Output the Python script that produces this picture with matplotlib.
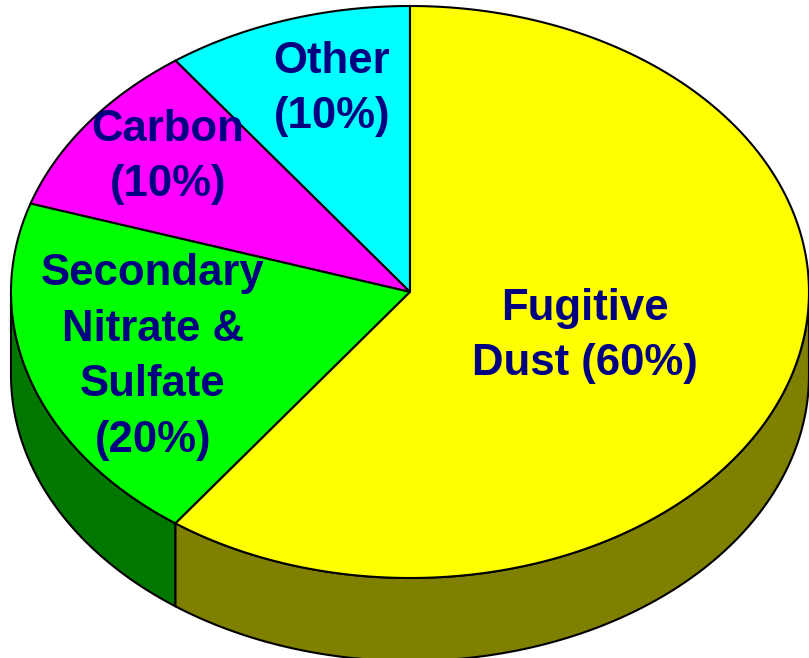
import numpy as np
import matplotlib.pyplot as plt
from matplotlib.patches import Polygon

# pie data, counterclockwise from 12 o'clock
labels = ['Other\n(10%)', 'Carbon\n(10%)', 'Secondary\nNitrate &\nSulfate\n(20%)', 'Fugitive\nDust (60%)']
shares = [10, 10, 20, 60]
top_colors = ['#00FFFF', '#FF00FF', '#00FF00', '#FFFF00']
side_colors = ['#008080', '#800080', '#007800', '#808000']
label_pos = [(332, 89), (168, 157), (153, 357), (585, 336)]

# ellipse geometry in pixels
cx, cy = 410, 292
rx, ry = 399, 286
depth = 83

def pt(t, dy=0):
    return cx + rx*np.cos(np.radians(t)), cy - ry*np.sin(np.radians(t)) + dy

fig = plt.figure(figsize=(8.09, 6.58), dpi=100)
ax = fig.add_axes([0, 0, 1, 1])
ax.set_xlim(0, 809)
ax.set_ylim(658, 0)
ax.axis('off')

bounds = 90 + 360*np.concatenate([[0], np.cumsum(shares)]) / sum(shares)

# side walls (front half only)
for i in range(len(shares)):
    a, b = max(bounds[i], 180), min(bounds[i+1], 360)
    if b <= a:
        continue
    t = np.linspace(a, b, 120)
    top = [pt(v) for v in t]
    bot = [pt(v, depth) for v in t[::-1]]
    ax.add_patch(Polygon(top + bot, closed=True, facecolor=side_colors[i],
                         edgecolor='black', lw=1.5, joinstyle='round'))

# top wedges
for i in range(len(shares)):
    t = np.linspace(bounds[i], bounds[i+1], 200)
    pts = [(cx, cy)] + [pt(v) for v in t]
    ax.add_patch(Polygon(pts, closed=True, facecolor=top_colors[i],
                         edgecolor='black', lw=1.5, joinstyle='round'))

for lab, (x, y) in zip(labels, label_pos):
    ax.text(x, y, lab, ha='center', va='center', fontsize=31.5, fontweight='bold',
            color='#000080', family='Liberation Sans', linespacing=1.45,
            multialignment='center')

fig.savefig('out.png', dpi=100)
